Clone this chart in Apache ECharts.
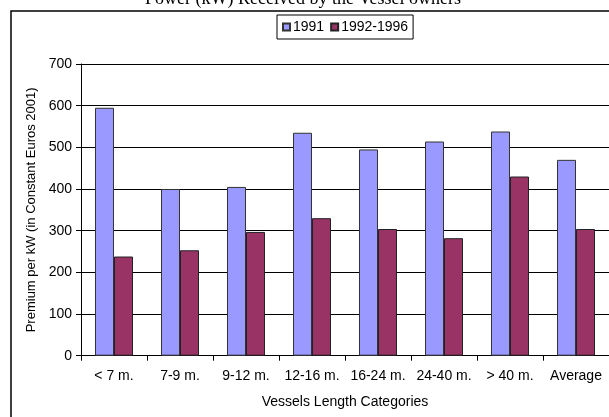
<!DOCTYPE html>
<html>
<head>
<meta charset="utf-8">
<script src="https://cdn.jsdelivr.net/npm/echarts@6/dist/echarts.min.js"></script>
<style>html,body{margin:0;padding:0;background:#fff}#c{width:609px;height:417px}</style>
</head>
<body>
<div id="c"></div>
<script>
const categories = ['< 7 m.', '7-9 m.', '9-12 m.', '12-16 m.', '16-24 m.', '24-40 m.', '> 40 m.', 'Average'];
const series1991 = [595, 400, 405, 535, 495, 514, 538, 470];
const series1992_1996 = [238, 253, 297, 330, 304, 282, 430, 304];
const seriesNames = ['1991', '1992-1996'];
const titleText = 'Power (kW) Received by the Vessel owners';
const yAxisName = 'Premium per kW (in Constant Euros 2001)';
const xAxisName = 'Vessels Length Categories';

const chart = echarts.init(document.getElementById('c'), null, {renderer: 'canvas'});
const font = 'Arial, "Liberation Sans", sans-serif';
chart.setOption({
  animation: false,
  backgroundColor: '#fff',
  textStyle: {fontFamily: font, color: '#000'},
  graphic: [
    {type: 'text', z: 100, x: 303, y: 8, style: {text: titleText, align: 'center', verticalAlign: 'bottom', textAlign: 'center', textVerticalAlign: 'bottom', font: '18px "Liberation Serif", "Times New Roman", serif', fill: '#000'}},
    {type: 'rect', z: 100, shape: {x: 11, y: 11, width: 640, height: 440}, style: {fill: 'none', stroke: '#000', lineWidth: 1.5}}
  ],
  legend: {
    left: 277, top: 15,
    data: seriesNames,
    icon: 'rect',
    itemWidth: 7, itemHeight: 7, itemGap: 6,
    padding: [5, 5],
    borderColor: '#000', borderWidth: 1,
    textStyle: {fontSize: 14, color: '#000', fontFamily: font, padding: [0, 0, 0, -2]}
  },
  grid: {left: 81, right: -2, top: 64, bottom: 61.3, containLabel: false},
  xAxis: {
    type: 'category',
    data: categories,
    name: xAxisName,
    nameLocation: 'middle',
    nameGap: 39,
    nameTextStyle: {fontSize: 14, color: '#000', fontFamily: font},
    axisLine: {lineStyle: {color: '#000', width: 1}},
    axisTick: {show: true, alignWithLabel: false, length: 5, lineStyle: {color: '#000'}},
    axisLabel: {fontSize: 14, color: '#000', margin: 13, interval: 0, fontFamily: font}
  },
  yAxis: {
    type: 'value',
    min: 0, max: 700, interval: 100,
    name: yAxisName,
    nameLocation: 'middle',
    nameGap: 39,
    nameRotate: 90,
    nameTextStyle: {fontSize: 13, color: '#000', fontFamily: font},
    axisLine: {show: true, lineStyle: {color: '#000', width: 1}},
    axisTick: {show: true, length: 5, lineStyle: {color: '#000'}},
    axisLabel: {fontSize: 14, color: '#000', margin: 9, fontFamily: font},
    splitLine: {show: true, lineStyle: {color: '#000', width: 1}}
  },
  series: [
    {name: seriesNames[0], type: 'bar', data: series1991, barWidth: 19, barGap: '0%',
     itemStyle: {color: '#9999FF', borderColor: '#333', borderWidth: 1}},
    {name: seriesNames[1], type: 'bar', data: series1992_1996, barWidth: 19, barGap: '0%',
     itemStyle: {color: '#993366', borderColor: '#222', borderWidth: 1}}
  ]
});
</script>
</body>
</html>
